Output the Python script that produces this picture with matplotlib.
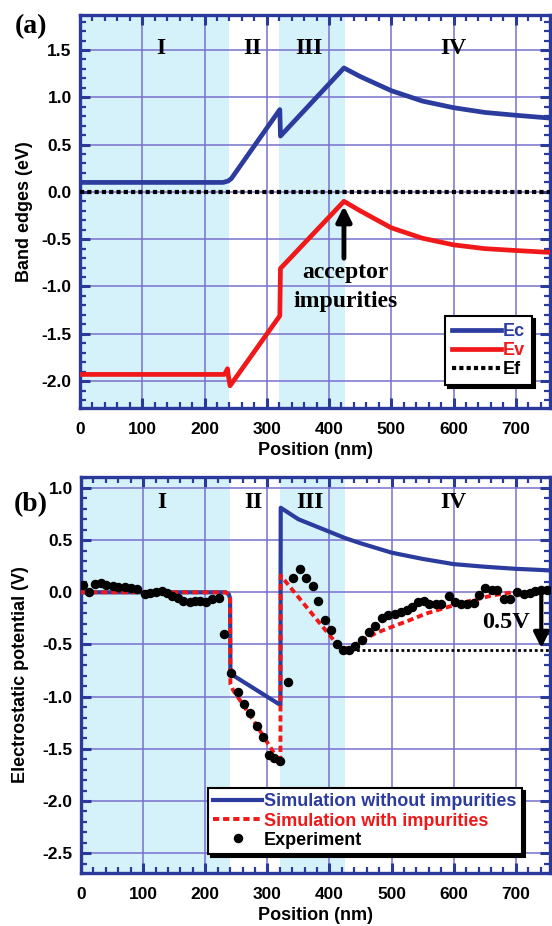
import matplotlib

matplotlib.use("Agg")

import matplotlib.pyplot as plt
from matplotlib.ticker import MultipleLocator

# Panel (a): band edges
ec_x = [0, 230, 238, 243, 321, 322, 424, 450, 500, 550, 600, 650, 700, 755]
ec_y = [0.10, 0.10, 0.115, 0.14, 0.87, 0.59, 1.31, 1.22, 1.07, 0.96, 0.89, 0.84, 0.81, 0.78]

ev_x = [0, 232, 237, 238, 241, 321, 322, 424, 450, 500, 550, 600, 650, 700, 755]
ev_y = [-1.93, -1.93, -1.87, -1.93, -2.05, -1.31, -0.81, -0.10, -0.20, -0.38,
        -0.49, -0.56, -0.60, -0.62, -0.64]

ef_x = [0, 755]
ef_y = [0.0, 0.0]

# Panel (b): electrostatic potential
sim_x = [0, 233, 238, 240, 240.5, 321, 321.5, 350, 400, 425, 450, 500, 550, 600,
         650, 700, 755]
sim_y = [0.0, 0.0, -0.02, -0.06, -0.78, -1.08, 0.81, 0.70, 0.58, 0.52, 0.47, 0.38,
         0.32, 0.27, 0.245, 0.225, 0.21]

imp_x = [0, 233, 238, 240, 240.5, 245, 260, 280, 300, 315, 321, 321.5, 418, 430,
         442, 453, 475, 501, 530, 555, 580, 608, 635, 662, 694, 705]
imp_y = [0.0, 0.0, -0.02, -0.06, -0.88, -0.94, -1.07, -1.25, -1.44, -1.58, -1.64,
         0.16, -0.54, -0.535, -0.50, -0.46, -0.39, -0.33, -0.265, -0.205, -0.16,
         -0.11, -0.07, -0.03, 0.0, 0.0]

exp_x = [3, 13, 22, 32, 41, 51, 60, 71, 80, 90, 103, 111, 120, 130, 138, 147, 156,
         165, 175, 183, 192, 202, 211, 222, 231, 242, 252, 263, 272, 283, 293, 302,
         311, 321, 333, 342, 353, 362, 373, 382, 393, 403, 412, 421, 432, 441, 452,
         464, 474, 484, 495, 506, 515, 525, 533, 543, 552, 561, 571, 580, 592, 602,
         611, 622, 632, 641, 651, 661, 670, 681, 691, 702, 713, 722, 731, 741, 750]
exp_y = [0.07, 0.0, 0.075, 0.085, 0.07, 0.06, 0.05, 0.05, 0.045, 0.035, -0.02,
         -0.005, 0.0, 0.01, -0.01, -0.04, -0.05, -0.08, -0.09, -0.085, -0.08, -0.09,
         -0.06, -0.055, -0.40, -0.77, -0.96, -1.07, -1.16, -1.28, -1.39, -1.56,
         -1.59, -1.62, -0.86, 0.14, 0.22, 0.14, 0.06, -0.08, -0.27, -0.36, -0.50,
         -0.55, -0.55, -0.51, -0.455, -0.38, -0.32, -0.25, -0.22, -0.205, -0.19,
         -0.17, -0.14, -0.09, -0.085, -0.11, -0.11, -0.115, -0.04, -0.09, -0.11,
         -0.11, -0.10, -0.03, 0.045, 0.025, 0.02, -0.06, -0.06, 0.0, -0.013,
         -0.003, 0.01, 0.025, 0.02]

ref_x = [435, 755]
ref_y = [-0.55, -0.55]

# regions
shaded = [(0, 240), (320, 425)]
region_names = ["I", "II", "III", "IV"]
region_pos = [130, 277, 368, 600]

BLUE = "#2b3c9e"
RED = "#f01818"
SHADE = "#d5f2fa"
GRID = "#7870cc"
SPINE = "#2b3a9a"

plt.rcParams["font.family"] = ["Liberation Sans", "DejaVu Sans"]
plt.rcParams["font.weight"] = "bold"
SERIF = ["Liberation Serif", "DejaVu Serif"]

fig = plt.figure(figsize=(5.52, 9.26), dpi=100)
W, H = 552, 926
ax_a = fig.add_axes([80 / W, 1 - 408 / H, 470 / W, 393 / H])
ax_b = fig.add_axes([81 / W, 1 - 873 / H, 469 / W, 396 / H])


def style(ax, ylim, ylabel, label_x):
    ax.set_xlim(0, 755)
    ax.set_ylim(*ylim)
    for lo, hi in shaded:
        ax.axvspan(lo, hi, color=SHADE, lw=0, zorder=0)
    ax.xaxis.set_major_locator(MultipleLocator(100))
    ax.xaxis.set_minor_locator(MultipleLocator(20))
    ax.yaxis.set_major_locator(MultipleLocator(0.5))
    ax.yaxis.set_minor_locator(MultipleLocator(0.1))
    ax.grid(True, which="major", color=GRID, lw=1.1, zorder=1)
    ax.set_axisbelow(True)
    for s in ax.spines.values():
        s.set_color(SPINE)
        s.set_linewidth(2.4)
    ax.tick_params(which="both", direction="in", top=True, right=True,
                   color=SPINE, labelsize=12.5)
    ax.tick_params(which="major", length=7, width=2.2)
    ax.tick_params(which="minor", length=4, width=1.6)
    ax.tick_params(axis="x", pad=10)
    ax.tick_params(axis="y", pad=6)
    ax.yaxis.set_major_formatter(lambda v, _: f"{v:.1f}")
    ax.set_xlabel("Position (nm)", fontsize=13, fontweight="bold", labelpad=4)
    ax.set_ylabel(ylabel, fontsize=13, fontweight="bold")
    ax.yaxis.set_label_coords(label_x, 0.5)


leg_kw = dict(bbox_transform=fig.transFigure, borderaxespad=0, loc="upper left",
              prop=dict(size=13, weight="bold"), labelcolor="linecolor",
              handlelength=2.7, handletextpad=0.1, fancybox=False, framealpha=1,
              shadow=dict(facecolor="black", edgecolor="black", alpha=1))

# ---- panel (a)
style(ax_a, (-2.285, 1.87), "Band edges (eV)", -0.10)
ax_a.plot(ec_x, ec_y, color=BLUE, lw=3.4, label="Ec", zorder=4)
ax_a.plot(ev_x, ev_y, color=RED, lw=3.4, label="Ev", zorder=4)
ax_a.plot(ef_x, ef_y, color="black", lw=3.0, ls=(0, (1, 0.75)), label="Ef", zorder=4)
for name, x in zip(region_names, region_pos):
    ax_a.text(x, 1.52, name, family=SERIF, fontsize=17, fontweight="bold",
              ha="center", va="center", zorder=5)
ax_a.annotate("", xy=(424, -0.12), xytext=(424, -0.73),
              arrowprops=dict(arrowstyle="-|>,head_length=0.9,head_width=0.45",
                              color="black", lw=3.5), zorder=6)
ax_a.text(426, -0.856, "acceptor", family=SERIF, fontsize=17, fontweight="bold",
          ha="center", va="center", zorder=6)
ax_a.text(426, -1.16, "impurities", family=SERIF, fontsize=17, fontweight="bold",
          ha="center", va="center", zorder=6)
leg_a = ax_a.legend(bbox_to_anchor=(445 / W, 1 - 316 / H), labelspacing=0.1,
                    borderpad=0.4, **leg_kw)
leg_a.get_frame().set_edgecolor("black")
leg_a.get_frame().set_linewidth(1.5)
leg_a.set_zorder(10)
fig.text(31 / W, 1 - 27 / H, "(a)", family=SERIF, fontsize=20, fontweight="bold",
         ha="center", va="center")

# ---- panel (b)
style(ax_b, (-2.69, 1.105), "Electrostatic potential (V)", -0.11)
ax_b.plot(sim_x, sim_y, color=BLUE, lw=3.0, label="Simulation without impurities",
          zorder=3)
ax_b.plot(imp_x, imp_y, color=RED, lw=2.8, ls=(0, (1.6, 1.0)),
          label="Simulation with impurities", zorder=4)
ax_b.plot(exp_x, exp_y, "o", color="black", ms=5.8, label="Experiment", zorder=5)
ax_b.plot(ref_x, ref_y, color="black", lw=2.0, ls=(0, (1, 1)), zorder=4)
for name, x in zip(region_names, region_pos):
    ax_b.text(x, 0.865, name, family=SERIF, fontsize=17, fontweight="bold",
              ha="center", va="center", zorder=5)
ax_b.annotate("", xy=(741, -0.56), xytext=(741, 0.03),
              arrowprops=dict(arrowstyle="-|>,head_length=0.9,head_width=0.45",
                              color="black", lw=3.0), zorder=6)
ax_b.text(684, -0.285, "0.5V", family=SERIF, fontsize=17.5, fontweight="bold",
          ha="center", va="center", zorder=6)
leg_b = ax_b.legend(bbox_to_anchor=(208 / W, 1 - 788 / H), labelspacing=0.12,
                    borderpad=0.3, **leg_kw)
leg_b.get_frame().set_edgecolor("black")
leg_b.get_frame().set_linewidth(1.5)
leg_b.set_zorder(10)
fig.text(31 / W, 1 - 505 / H, "(b)", family=SERIF, fontsize=20, fontweight="bold",
         ha="center", va="center")

fig.savefig("out.png", dpi=100)
